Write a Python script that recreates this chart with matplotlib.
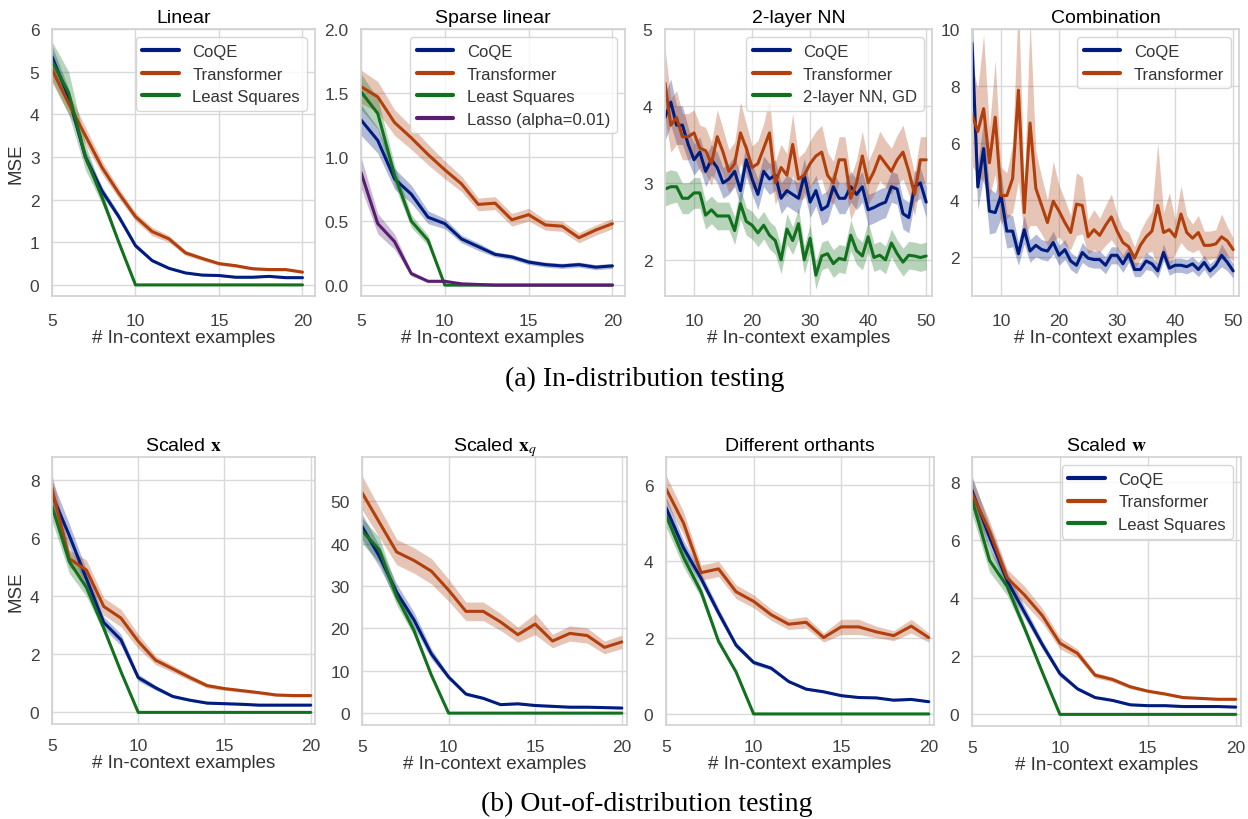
import matplotlib

matplotlib.use("Agg")

import matplotlib.pyplot as plt
import numpy as np
import seaborn as sns

sns.set_theme(style="whitegrid")
plt.rcParams["font.family"] = ["Liberation Sans", "DejaVu Sans"]
plt.rcParams["mathtext.fontset"] = "stix"

C_COQE = "#001c7f"
C_TRANS = "#b1400d"
C_LSQ = "#12711c"
C_LASSO = "#591e71"

# ---- (a) in-distribution ----
x_short = list(range(5, 21))
x_long = list(range(5, 51))

lin_coqe = [5.35, 4.4, 3.0, 2.2, 1.6, 0.92, 0.57, 0.39, 0.28, 0.23, 0.22, 0.18, 0.18, 0.2, 0.17, 0.17]
lin_coqe_err = [0.25, 0.2, 0.15, 0.1, 0.08, 0.06, 0.04, 0.03, 0.02, 0.02, 0.02, 0.02, 0.02, 0.02, 0.02, 0.02]
lin_trans = [5.05, 4.25, 3.5, 2.75, 2.15, 1.6, 1.25, 1.08, 0.75, 0.62, 0.5, 0.45, 0.38, 0.36, 0.36, 0.3]
lin_trans_err = [0.3, 0.25, 0.2, 0.15, 0.12, 0.1, 0.1, 0.08, 0.06, 0.05, 0.04, 0.04, 0.03, 0.03, 0.03, 0.03]
lin_lsq = [5.25, 4.5, 3.0, 2.05, 1.0, 0.0, 0, 0, 0, 0, 0, 0, 0, 0, 0, 0]
lin_lsq_err = [0.45, 0.5, 0.3, 0.15, 0.05, 0, 0, 0, 0, 0, 0, 0, 0, 0, 0, 0]

sp_coqe = [1.29, 1.13, 0.83, 0.71, 0.53, 0.48, 0.36, 0.30, 0.24, 0.22, 0.18, 0.16, 0.15, 0.16, 0.14, 0.15]
sp_coqe_err = [0.12, 0.1, 0.08, 0.07, 0.05, 0.04, 0.03, 0.03, 0.02, 0.02, 0.02, 0.02, 0.02, 0.02, 0.02, 0.02]
sp_trans = [1.55, 1.47, 1.27, 1.15, 1.02, 0.9, 0.79, 0.63, 0.64, 0.51, 0.55, 0.47, 0.46, 0.37, 0.43, 0.48]
sp_trans_err = [0.13, 0.12, 0.1, 0.09, 0.08, 0.07, 0.06, 0.05, 0.05, 0.05, 0.05, 0.04, 0.04, 0.04, 0.04, 0.04]
sp_lsq = [1.51, 1.34, 0.86, 0.5, 0.35, 0.0, 0, 0, 0, 0, 0, 0, 0, 0, 0, 0]
sp_lsq_err = [0.14, 0.12, 0.08, 0.05, 0.04, 0, 0, 0, 0, 0, 0, 0, 0, 0, 0, 0]
sp_lasso = [0.88, 0.48, 0.34, 0.09, 0.03, 0.03, 0.01, 0.005, 0, 0, 0, 0, 0, 0, 0, 0]
sp_lasso_err = [0.12, 0.08, 0.06, 0.02, 0.01, 0.01, 0, 0, 0, 0, 0, 0, 0, 0, 0, 0]

nn_coqe = [3.85, 4.05, 3.75, 3.75, 3.5, 3.3, 3.4, 3.15, 3.3, 3.2, 3.0, 3.05, 3.15, 2.9, 3.3,
           3.05, 2.85, 3.15, 3.05, 3.1, 2.8, 2.9, 2.85, 2.8, 3.1, 2.75, 2.9, 2.65, 2.7, 2.95,
           2.8, 2.8, 2.95, 2.85, 2.95, 2.65, 2.68, 2.72, 2.75, 2.95, 2.92, 2.6, 2.55, 2.95, 3.0, 2.75]
nn_coqe_err = [0.3, 0.3, 0.25, 0.25, 0.22, 0.2, 0.2, 0.2, 0.2, 0.2, 0.2, 0.2, 0.2, 0.2, 0.22,
               0.2, 0.2, 0.2, 0.2, 0.2, 0.2, 0.2, 0.2, 0.2, 0.22, 0.2, 0.2, 0.2, 0.2, 0.2,
               0.2, 0.2, 0.2, 0.2, 0.2, 0.2, 0.2, 0.2, 0.2, 0.2, 0.2, 0.2, 0.2, 0.2, 0.2, 0.2]
nn_trans = [4.3, 3.75, 3.85, 3.6, 3.6, 3.65, 3.45, 3.42, 3.25, 3.6, 3.4, 3.15, 3.25, 3.65, 3.45,
            3.2, 3.25, 3.45, 3.65, 3.0, 3.2, 3.1, 3.5, 3.05, 3.1, 3.25, 3.35, 3.4, 3.1, 3.0,
            3.3, 3.3, 2.8, 3.0, 3.35, 3.0, 3.15, 3.35, 3.25, 3.15, 3.3, 3.4, 3.15, 2.85, 3.3, 3.3]
nn_trans_err = [0.45, 0.35, 0.35, 0.3, 0.3, 0.3, 0.3, 0.3, 0.28, 0.35, 0.3, 0.28, 0.28, 0.4, 0.32,
                0.28, 0.3, 0.32, 0.45, 0.28, 0.3, 0.28, 0.4, 0.28, 0.3, 0.3, 0.32, 0.35, 0.3, 0.28,
                0.3, 0.3, 0.28, 0.3, 0.32, 0.28, 0.3, 0.32, 0.3, 0.3, 0.32, 0.35, 0.3, 0.28, 0.3, 0.3]
nn_gd = [2.92, 2.95, 2.95, 2.8, 2.8, 2.87, 2.87, 2.58, 2.65, 2.57, 2.57, 2.57, 2.38, 2.73, 2.5,
         2.45, 2.35, 2.45, 2.32, 2.25, 2.0, 2.4, 2.25, 2.47, 2.0, 2.28, 1.8, 2.05, 2.08, 1.95,
         2.02, 2.0, 2.32, 2.12, 2.05, 2.3, 2.03, 2.06, 2.0, 2.22, 2.08, 1.97, 2.06, 2.05, 2.03, 2.05]
nn_gd_err = [0.22, 0.22, 0.2, 0.2, 0.2, 0.2, 0.2, 0.18, 0.18, 0.18, 0.18, 0.18, 0.18, 0.2, 0.18,
             0.18, 0.18, 0.18, 0.18, 0.18, 0.18, 0.2, 0.18, 0.2, 0.18, 0.18, 0.18, 0.18, 0.18, 0.18,
             0.18, 0.18, 0.2, 0.18, 0.18, 0.2, 0.18, 0.18, 0.18, 0.18, 0.18, 0.18, 0.18, 0.18, 0.18, 0.18]

cb_coqe = [9.5, 4.45, 5.8, 3.6, 3.55, 4.15, 2.9, 2.9, 2.1, 2.95, 2.2, 2.4, 2.25, 2.2, 2.5,
           2.05, 2.25, 1.85, 1.7, 2.15, 1.95, 1.9, 1.9, 1.7, 2.05, 2.05, 1.75, 2.1, 1.55, 1.55,
           1.85, 1.75, 1.5, 2.15, 1.6, 1.7, 1.7, 1.65, 1.75, 1.55, 1.8, 1.5, 1.7, 2.05, 1.8, 1.5]
cb_coqe_err = [1.5, 0.8, 1.0, 0.8, 0.7, 0.8, 0.6, 0.55, 0.4, 0.5, 0.4, 0.4, 0.35, 0.35, 0.4,
               0.35, 0.35, 0.3, 0.3, 0.35, 0.3, 0.3, 0.3, 0.3, 0.3, 0.3, 0.3, 0.3, 0.25, 0.25,
               0.3, 0.25, 0.25, 0.3, 0.25, 0.25, 0.25, 0.25, 0.25, 0.25, 0.25, 0.25, 0.25, 0.4, 0.3, 0.25]
cb_trans = [7.0, 6.4, 7.2, 5.3, 6.9, 4.15, 4.15, 4.75, 7.85, 3.55, 6.7, 4.4, 3.8, 3.2, 3.95,
            3.6, 3.2, 2.85, 3.85, 3.8, 2.7, 2.95, 2.75, 3.1, 3.4, 2.9, 2.5, 2.35, 1.95, 2.4,
            2.7, 2.9, 3.8, 2.85, 2.95, 2.7, 3.5, 2.85, 2.65, 2.85, 2.4, 2.4, 2.45, 2.7, 2.55, 2.25]
cb_trans_err = [1.8, 1.5, 2.6, 1.2, 2.0, 1.0, 0.8, 1.2, 3.2, 0.9, 3.6, 1.3, 1.0, 0.8, 1.4,
                0.9, 0.8, 0.6, 1.1, 1.0, 0.6, 0.7, 0.6, 0.7, 0.8, 0.6, 0.5, 0.5, 0.4, 0.5,
                0.6, 0.7, 2.2, 0.7, 1.3, 0.6, 1.0, 0.6, 0.5, 0.6, 0.5, 0.5, 0.5, 0.8, 0.5, 0.4]

# ---- (b) out-of-distribution ----
sx_coqe = [7.5, 6.1, 4.6, 3.1, 2.5, 1.2, 0.85, 0.55, 0.42, 0.32, 0.3, 0.28, 0.25, 0.25, 0.25, 0.25]
sx_coqe_err = [0.5, 0.4, 0.3, 0.2, 0.2, 0.12, 0.08, 0.05, 0.04, 0.03, 0.03, 0.03, 0.03, 0.03, 0.03, 0.03]
sx_trans = [7.7, 5.3, 4.9, 3.65, 3.25, 2.45, 1.8, 1.5, 1.2, 0.92, 0.82, 0.75, 0.68, 0.6, 0.58, 0.58]
sx_trans_err = [0.5, 0.3, 0.35, 0.3, 0.3, 0.25, 0.15, 0.12, 0.1, 0.08, 0.06, 0.06, 0.05, 0.05, 0.05, 0.05]
sx_lsq = [7.1, 5.2, 4.3, 2.9, 1.4, 0.0, 0, 0, 0, 0, 0, 0, 0, 0, 0, 0]
sx_lsq_err = [0.5, 0.4, 0.3, 0.15, 0.06, 0, 0, 0, 0, 0, 0, 0, 0, 0, 0, 0]

sq_coqe = [44, 37, 28.5, 22, 14, 8.5, 4.5, 3.5, 2.0, 2.2, 1.8, 1.6, 1.4, 1.4, 1.3, 1.2]
sq_coqe_err = [3, 2.5, 2, 1.8, 1.2, 0.6, 0.4, 0.3, 0.2, 0.2, 0.2, 0.2, 0.2, 0.2, 0.2, 0.2]
sq_trans = [52, 45, 38, 36, 33.5, 29, 24, 24, 21.5, 18.5, 21, 17, 18.8, 18.3, 15.5, 16.8]
sq_trans_err = [4, 3.5, 3, 3, 3, 2.6, 2.2, 2.2, 2, 1.8, 2.5, 1.6, 1.8, 1.8, 1.5, 1.6]
sq_lsq = [43, 38.5, 27.5, 19.5, 9, 0.0, 0, 0, 0, 0, 0, 0, 0, 0, 0, 0]
sq_lsq_err = [3, 3, 2, 1.2, 0.5, 0, 0, 0, 0, 0, 0, 0, 0, 0, 0, 0]

do_coqe = [5.4, 4.35, 3.55, 2.65, 1.8, 1.35, 1.2, 0.85, 0.65, 0.58, 0.48, 0.43, 0.42, 0.36, 0.38, 0.32]
do_coqe_err = [0.3, 0.2, 0.15, 0.12, 0.08, 0.06, 0.05, 0.04, 0.03, 0.03, 0.03, 0.02, 0.02, 0.02, 0.02, 0.02]
do_trans = [5.9, 5.0, 3.7, 3.8, 3.2, 2.95, 2.6, 2.35, 2.4, 2.0, 2.28, 2.28, 2.15, 2.05, 2.3, 2.0]
do_trans_err = [0.35, 0.3, 0.2, 0.2, 0.18, 0.17, 0.15, 0.14, 0.15, 0.12, 0.2, 0.2, 0.15, 0.13, 0.18, 0.12]
do_lsq = [5.2, 4.1, 3.2, 1.9, 1.1, 0.0, 0, 0, 0, 0, 0, 0, 0, 0, 0, 0]
do_lsq_err = [0.3, 0.25, 0.15, 0.08, 0.04, 0, 0, 0, 0, 0, 0, 0, 0, 0, 0, 0]

sw_coqe = [7.7, 6.1, 4.6, 3.5, 2.4, 1.4, 0.88, 0.58, 0.48, 0.33, 0.3, 0.3, 0.27, 0.27, 0.27, 0.25]
sw_coqe_err = [0.5, 0.4, 0.3, 0.2, 0.15, 0.1, 0.06, 0.04, 0.03, 0.03, 0.03, 0.03, 0.02, 0.02, 0.02, 0.02]
sw_trans = [7.6, 6.3, 4.7, 4.1, 3.4, 2.45, 2.1, 1.35, 1.2, 0.95, 0.8, 0.7, 0.58, 0.55, 0.52, 0.52]
sw_trans_err = [0.5, 0.35, 0.3, 0.3, 0.25, 0.2, 0.15, 0.1, 0.08, 0.07, 0.05, 0.05, 0.04, 0.04, 0.04, 0.04]
sw_lsq = [7.4, 5.3, 4.4, 2.95, 1.45, 0.0, 0, 0, 0, 0, 0, 0, 0, 0, 0, 0]
sw_lsq_err = [0.5, 0.4, 0.3, 0.15, 0.06, 0, 0, 0, 0, 0, 0, 0, 0, 0, 0, 0]

W, H = 1248, 820


def add_axes(fig, left, right, top, bottom):
    return fig.add_axes([left / W, 1 - bottom / H, (right - left) / W, (bottom - top) / H])


def band(ax, x, y, err, color, label):
    y = np.asarray(y, dtype=float)
    err = np.asarray(err, dtype=float)
    ax.fill_between(x, y - err, y + err, color=color, alpha=0.3, linewidth=0)
    ax.plot(x, y, color=color, linewidth=2.2, label=label)


def style(ax, title, xlim, ylim, xticks, yticks, fmt=None, ylabel=None, legend=False, xpad=6):
    ax.set_title(title, fontsize=14, color="black", pad=5)
    ax.set_xlim(*xlim)
    ax.set_ylim(*ylim)
    ax.set_xticks(xticks)
    ax.set_yticks(yticks)
    if fmt:
        ax.set_yticklabels([fmt.format(v) for v in yticks])
    ax.tick_params(axis="both", labelsize=12.5, colors=".25")
    ax.tick_params(axis="x", pad=xpad)
    ax.tick_params(axis="y", pad=3)
    ax.set_xlabel("# In-context examples", fontsize=13.5, color=".2", labelpad=1)
    if ylabel:
        ax.set_ylabel(ylabel, fontsize=13.5, color=".2", labelpad=4)
    for s in ax.spines.values():
        s.set_color(".82")
        s.set_linewidth(1.2)
    ax.grid(color=".85", linewidth=1.0)
    if legend:
        leg = ax.legend(loc="upper right", fontsize=12, frameon=True, handlelength=2.2,
                        borderpad=0.4, labelspacing=0.45)
        for t in leg.get_texts():
            t.set_color(".2")
        for h in leg.get_lines():
            h.set_linewidth(3)


fig = plt.figure(figsize=(W / 100, H / 100), dpi=100)

ax = add_axes(fig, 52, 315, 30, 297)
band(ax, x_short, lin_coqe, lin_coqe_err, C_COQE, "CoQE")
band(ax, x_short, lin_trans, lin_trans_err, C_TRANS, "Transformer")
band(ax, x_short, lin_lsq, lin_lsq_err, C_LSQ, "Least Squares")
style(ax, "Linear", (5, 20.75), (-0.26, 6.0), [5, 10, 15, 20], range(0, 7), ylabel="MSE", legend=True)

ax = add_axes(fig, 361, 625, 30, 297)
band(ax, x_short, sp_coqe, sp_coqe_err, C_COQE, "CoQE")
band(ax, x_short, sp_trans, sp_trans_err, C_TRANS, "Transformer")
band(ax, x_short, sp_lsq, sp_lsq_err, C_LSQ, "Least Squares")
band(ax, x_short, sp_lasso, sp_lasso_err, C_LASSO, "Lasso (alpha=0.01)")
style(ax, "Sparse linear", (5, 20.75), (-0.085, 2.0), [5, 10, 15, 20], [0, 0.5, 1.0, 1.5, 2.0],
      fmt="{:.1f}", legend=True)

ax = add_axes(fig, 665, 932, 30, 297)
band(ax, x_long, nn_coqe, nn_coqe_err, C_COQE, "CoQE")
band(ax, x_long, nn_trans, nn_trans_err, C_TRANS, "Transformer")
band(ax, x_long, nn_gd, nn_gd_err, C_LSQ, "2-layer NN, GD")
style(ax, "2-layer NN", (5, 51), (1.53, 5.0), [10, 20, 30, 40, 50], [2, 3, 4, 5], legend=True)

ax = add_axes(fig, 972, 1239, 30, 297)
band(ax, x_long, cb_coqe, cb_coqe_err, C_COQE, "CoQE")
band(ax, x_long, cb_trans, cb_trans_err, C_TRANS, "Transformer")
style(ax, "Combination", (5, 51), (0.62, 10.0), [10, 20, 30, 40, 50], [2, 4, 6, 8, 10], legend=True)

ax = add_axes(fig, 52, 315, 458, 725)
band(ax, x_short, sx_coqe, sx_coqe_err, C_COQE, "CoQE")
band(ax, x_short, sx_trans, sx_trans_err, C_TRANS, "Transformer")
band(ax, x_short, sx_lsq, sx_lsq_err, C_LSQ, "Least Squares")
style(ax, r"Scaled $\mathbf{x}$", (5, 20.25), (-0.4, 8.8), [5, 10, 15, 20], [0, 2, 4, 6, 8],
      ylabel="MSE", xpad=4)

ax = add_axes(fig, 362, 627, 458, 726)
band(ax, x_short, sq_coqe, sq_coqe_err, C_COQE, "CoQE")
band(ax, x_short, sq_trans, sq_trans_err, C_TRANS, "Transformer")
band(ax, x_short, sq_lsq, sq_lsq_err, C_LSQ, "Least Squares")
style(ax, r"Scaled $\mathbf{x}_q$", (5, 20.3), (-2.8, 60.4), [5, 10, 15, 20], [0, 10, 20, 30, 40, 50],
      xpad=4)

ax = add_axes(fig, 666, 934, 458, 726)
band(ax, x_short, do_coqe, do_coqe_err, C_COQE, "CoQE")
band(ax, x_short, do_trans, do_trans_err, C_TRANS, "Transformer")
band(ax, x_short, do_lsq, do_lsq_err, C_LSQ, "Least Squares")
style(ax, "Different orthants", (5, 20.3), (-0.29, 6.73), [5, 10, 15, 20], [0, 2, 4, 6], xpad=4)

ax = add_axes(fig, 972, 1241, 458, 727)
band(ax, x_short, sw_coqe, sw_coqe_err, C_COQE, "CoQE")
band(ax, x_short, sw_trans, sw_trans_err, C_TRANS, "Transformer")
band(ax, x_short, sw_lsq, sw_lsq_err, C_LSQ, "Least Squares")
style(ax, r"Scaled $\mathbf{w}$", (5, 20.3), (-0.4, 8.86), [5, 10, 15, 20], [0, 2, 4, 6, 8],
      legend=True, xpad=4)

fig.text(645 / W, 1 - 379 / H, "(a) In-distribution testing", ha="center", va="center",
         fontsize=20, family="Liberation Serif", color="black")
fig.text(647 / W, 1 - 804 / H, "(b) Out-of-distribution testing", ha="center", va="center",
         fontsize=20, family="Liberation Serif", color="black")

fig.savefig("out.png", dpi=100)
